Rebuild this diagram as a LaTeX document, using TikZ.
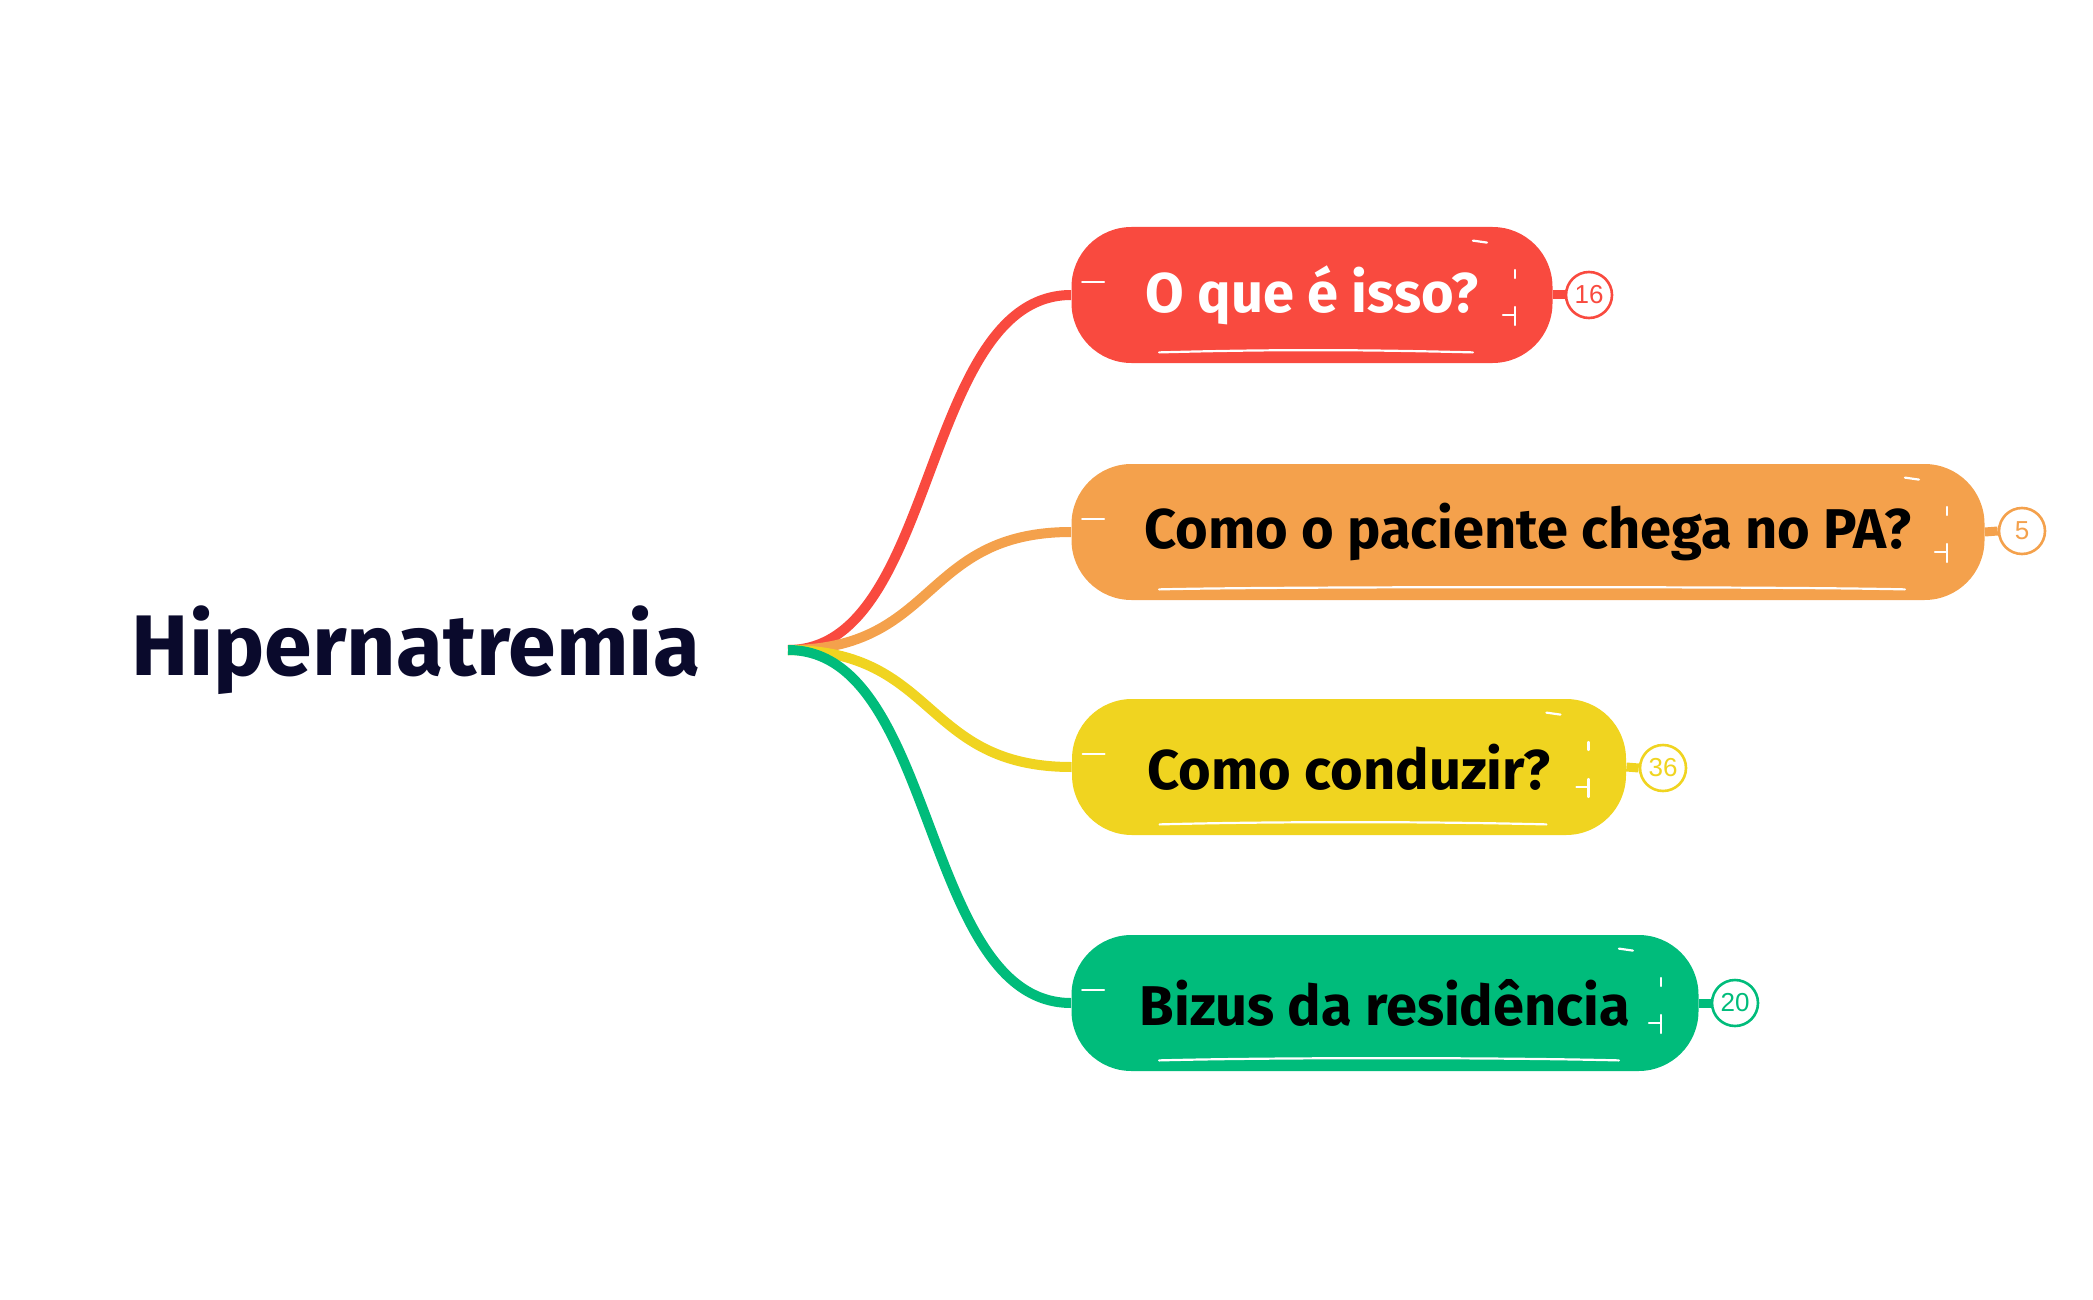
\documentclass[tikz,border=0pt]{standalone}
\usepackage{fontspec}
\setmainfont{Fira Sans}
\newfontfamily\badgefont{Liberation Sans}
\usetikzlibrary{calc,backgrounds}
\definecolor{cred}{HTML}{F94A3F}
\definecolor{corange}{HTML}{F4A14C}
\definecolor{cyellow}{HTML}{F0D420}
\definecolor{cgreen}{HTML}{00BC7B}
\definecolor{croot}{HTML}{0A0A2C}
\newcommand\sketchmarks[1]{%
  \draw[sk] ($(#1.west)+(11,-13)$) -- ++(22,0);
  \draw[sk] ($(#1.south west)+(88,-11)$) .. controls ($(#1.south west)+(200,-14)$) and ($(#1.south east)+(-200,-14)$) .. ($(#1.south east)+(-80,-11)$);
  \draw[sk] ($(#1.north east)+(-80,14)$) -- ++(14,2);
  \draw[sk] ($(#1.east)+(-38,-25)$) -- ++(0,8);
  \draw[sk] ($(#1.east)+(-38,12)$) -- ++(0,18);
  \draw[sk] ($(#1.east)+(-50,20)$) -- ++(12,0);
}
\begin{document}
\begin{tikzpicture}[x=0.5pt,y=-0.5pt,
  branch/.style={line width=5pt, line cap=butt},
  topic/.style={rectangle, rounded corners=30pt, minimum height=68pt, inner sep=0pt,
    font=\bfseries\fontsize{28}{32}\selectfont},
  badge/.style={circle, draw, line width=1.3pt, fill=white, minimum size=23pt, inner sep=0pt,
    font=\badgefont\fontsize{13}{13}\selectfont},
  stub/.style={line width=4.5pt},
  sk/.style={white, line width=1.1pt, line cap=round}]
\useasboundingbox (0,0) rectangle (2093,1300);
\node[font=\bfseries\fontsize{43}{48}\selectfont, text=croot] (root) at (416,650) {Hipernatremia};
\coordinate (hub) at (788,650);

\node[topic, fill=cred, text=white, minimum width=240.5pt] (t1) at (1312,295) {O que é isso?};
\node[topic, fill=corange, text=black, minimum width=456.5pt] (t2) at (1528,532) {Como o paciente chega no PA?};
\node[topic, fill=cyellow, text=black, minimum width=277pt] (t3) at (1349,767) {Como conduzir?};
\node[topic, fill=cgreen, text=black, minimum width=313.5pt] (t4) at (1385,1003) {Bizus da residência};

\sketchmarks{t1}
\sketchmarks{t2}
\sketchmarks{t3}
\sketchmarks{t4}

\node[badge, draw=cred, text=cred] (b1) at (1589,295) {16};
\node[badge, draw=corange, text=corange] (b2) at (2022,531) {5};
\node[badge, draw=cyellow, text=cyellow] (b3) at (1663,768) {36};
\node[badge, draw=cgreen, text=cgreen] (b4) at (1735,1003) {20};

\begin{scope}[on background layer]
\draw[branch, cred] (hub) .. controls +(150,0) and +(-150,0) .. (t1.west);
\draw[branch, corange] (hub) .. controls +(150,0) and +(-150,0) .. (t2.west);
\draw[branch, cyellow] (hub) .. controls +(150,0) and +(-150,0) .. (t3.west);
\draw[branch, cgreen] (hub) .. controls +(150,0) and +(-150,0) .. (t4.west);
\draw[stub, cred] (t1.east) -- (b1.west);
\draw[stub, corange] (t2.east) -- (b2.west);
\draw[stub, cyellow] (t3.east) -- (b3.west);
\draw[stub, cgreen] (t4.east) -- (b4.west);
\end{scope}
\end{tikzpicture}
\end{document}
